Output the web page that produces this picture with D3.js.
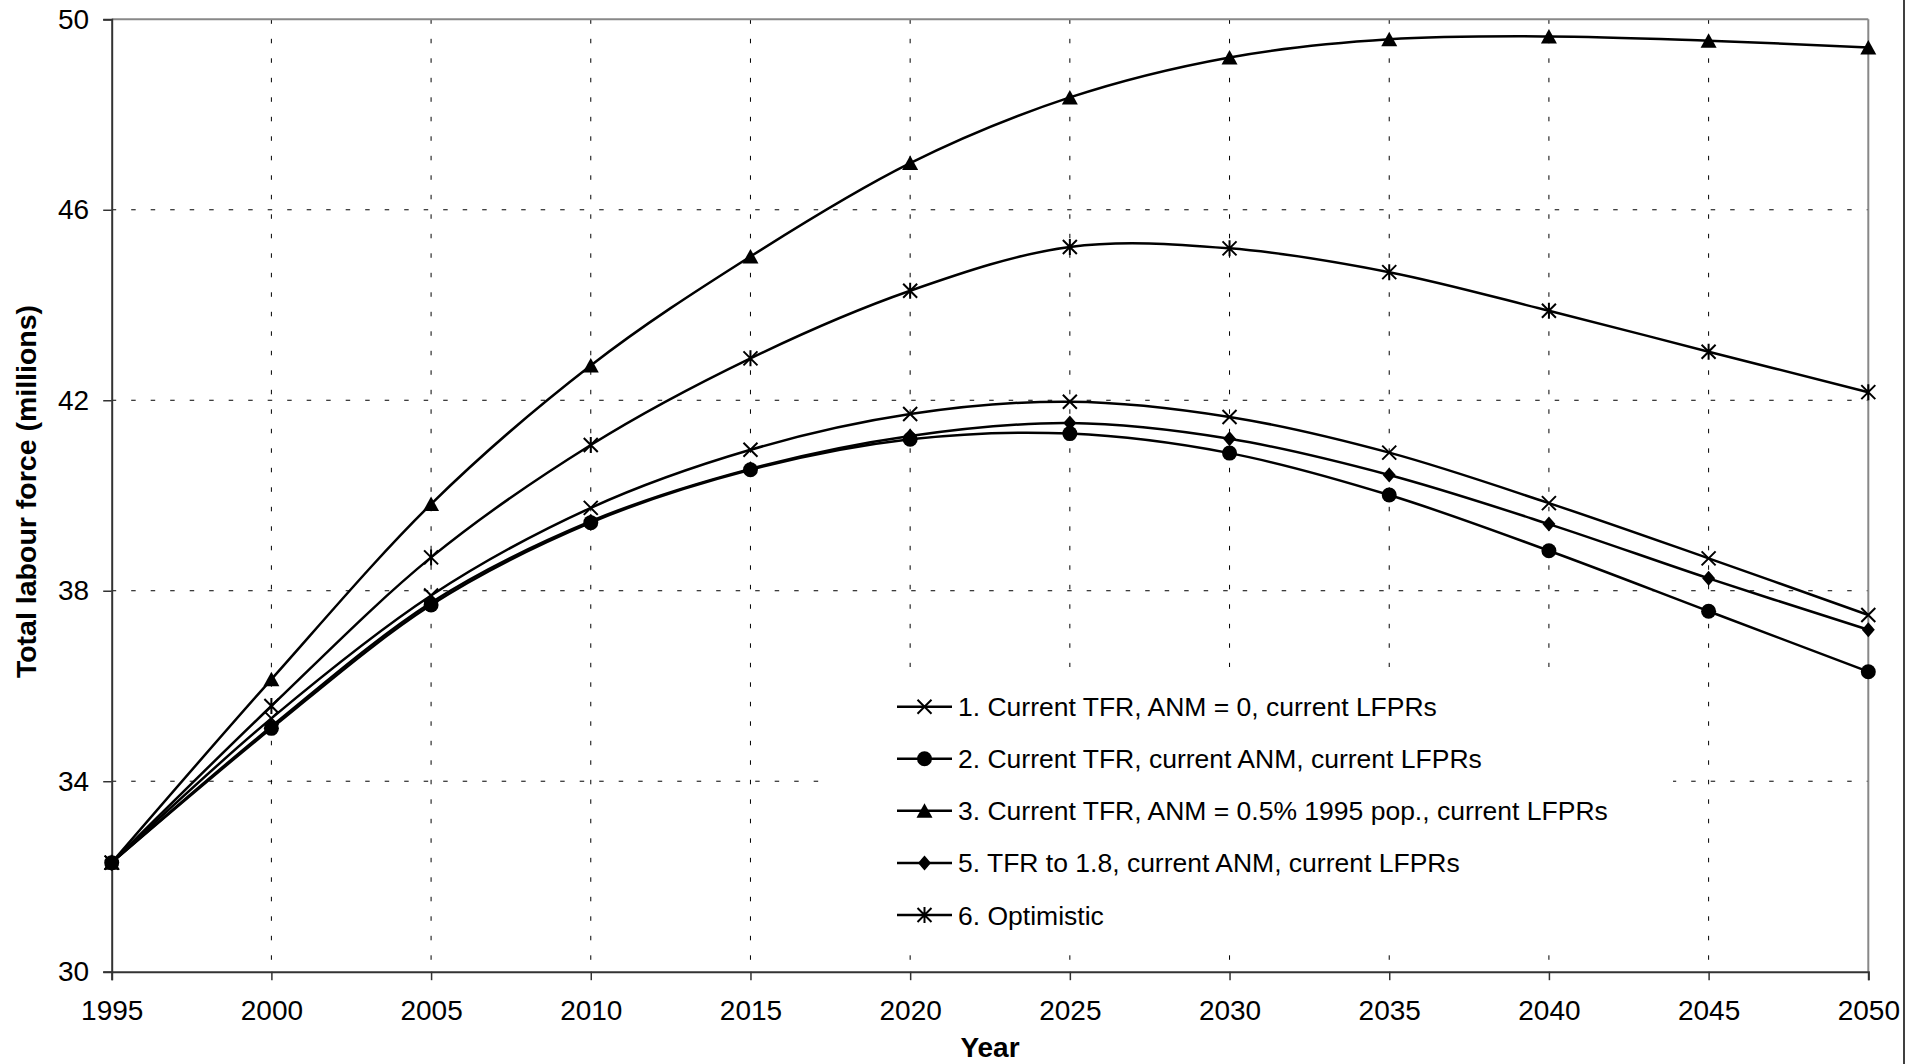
<!DOCTYPE html>
<html>
<head>
<meta charset="utf-8">
<script src="https://cdn.jsdelivr.net/npm/d3@7"></script>
<style>
  html, body { margin: 0; padding: 0; background: #fff; }
  svg { display: block; }
  text { font-family: "Liberation Sans", Arial, sans-serif; fill: #000; }
</style>
</head>
<body>
<svg id="chart" width="1925" height="1064"></svg>
<script>
// ---------- data ----------
const years = [1995, 2000, 2005, 2010, 2015, 2020, 2025, 2030, 2035, 2040, 2045, 2050];
const s1 = [32.29, 35.32, 37.90, 39.74, 40.96, 41.71, 41.97, 41.65, 40.90, 39.84, 38.68, 37.49];
const s2 = [32.29, 35.11, 37.70, 39.43, 40.54, 41.18, 41.30, 40.89, 40.01, 38.84, 37.57, 36.30];
const s3 = [32.29, 36.14, 39.82, 42.73, 45.02, 46.98, 48.36, 49.20, 49.58, 49.64, 49.55, 49.41];
const s5 = [32.29, 35.15, 37.75, 39.46, 40.56, 41.25, 41.52, 41.19, 40.43, 39.40, 38.26, 37.18];
const s6 = [32.29, 35.58, 38.70, 41.06, 42.88, 44.30, 45.22, 45.19, 44.69, 43.88, 43.02, 42.17];
const seriesNames = [
  "1. Current TFR, ANM = 0, current LFPRs",
  "2. Current TFR, current ANM, current LFPRs",
  "3. Current TFR, ANM = 0.5% 1995 pop., current LFPRs",
  "5. TFR to 1.8, current ANM, current LFPRs",
  "6. Optimistic"
];
const seriesMarkers = ["x", "circle", "triangle", "diamond", "star"];
const seriesValues = [s1, s2, s3, s5, s6];
const yTicks = [30, 34, 38, 42, 46, 50];
const xTicks = [1995, 2000, 2005, 2010, 2015, 2020, 2025, 2030, 2035, 2040, 2045, 2050];
const yTitle = "Total labour force (millions)";
const xTitle = "Year";

// ---------- layout ----------
const L = 111.7, R = 1868.3, T = 19.3, B = 971.7;
const svg = d3.select("#chart");
const x = d3.scaleLinear().domain([1995, 2050]).range([L, R]);
const y = d3.scaleLinear().domain([30, 50]).range([B, T]);

// gridlines
const grid = svg.append("g");
grid.selectAll("line.h").data(yTicks.filter(v => v > 30 && v < 50)).enter().append("line")
  .attr("x1", L).attr("x2", R).attr("y1", d => y(d)).attr("y2", d => y(d))
  .attr("stroke", "#000").attr("stroke-width", 1).attr("stroke-dasharray", "4.5,15");
grid.selectAll("line.v").data(xTicks.filter(v => v > 1995 && v < 2050)).enter().append("line")
  .attr("y1", T).attr("y2", B).attr("x1", d => x(d)).attr("x2", d => x(d))
  .attr("stroke", "#000").attr("stroke-width", 1).attr("stroke-dasharray", "4.5,15");

// plot frame: top/right gray
svg.append("line").attr("x1", L).attr("x2", R).attr("y1", T).attr("y2", T).attr("stroke", "#888").attr("stroke-width", 2);
svg.append("line").attr("x1", R).attr("x2", R).attr("y1", T).attr("y2", B).attr("stroke", "#888").attr("stroke-width", 2);

// axes
const yAxis = d3.axisLeft(y).tickValues(yTicks).tickSize(8.5).tickPadding(14).tickFormat(d3.format("d"));
const gy = svg.append("g").attr("transform", `translate(${L},0)`).call(yAxis);
const xAxis = d3.axisBottom(x).tickValues(xTicks).tickSize(8.5).tickPadding(20).tickFormat(d3.format("d"));
const gx = svg.append("g").attr("transform", `translate(0,${B})`).call(xAxis);
[gy, gx].forEach(g => {
  g.select(".domain").attr("stroke", "#333").attr("stroke-width", 2);
  g.selectAll(".tick line").attr("stroke", "#333").attr("stroke-width", 1.5);
  g.selectAll(".tick text").style("font-family", '"Liberation Sans", Arial, sans-serif')
    .style("font-size", "28px").attr("fill", "#000");
});

// axis titles
svg.append("text").attr("transform", `translate(36,${(T + B) / 2 - 4}) rotate(-90)`)
  .attr("text-anchor", "middle").style("font-size", "28.5px").style("font-weight", "bold").text(yTitle);
svg.append("text").attr("x", (L + R) / 2).attr("y", 1057)
  .attr("text-anchor", "middle").style("font-size", "28px").style("font-weight", "bold").text(xTitle);

// right edge line of the picture
svg.append("line").attr("x1", 1904).attr("x2", 1904).attr("y1", 0).attr("y2", 1064).attr("stroke", "#000").attr("stroke-width", 1.5);

// marker drawing
function drawMarker(g, type, cx, cy) {
  if (type === "x") {
    const s = 7;
    g.append("path").attr("d", `M${cx - s},${cy - s}L${cx + s},${cy + s}M${cx - s},${cy + s}L${cx + s},${cy - s}`)
      .attr("stroke", "#000").attr("stroke-width", 2).attr("fill", "none");
  } else if (type === "star") {
    const s = 7;
    g.append("path").attr("d", `M${cx - s},${cy - s}L${cx + s},${cy + s}M${cx - s},${cy + s}L${cx + s},${cy - s}M${cx},${cy - s - 1}L${cx},${cy + s + 1}`)
      .attr("stroke", "#000").attr("stroke-width", 2).attr("fill", "none");
  } else if (type === "circle") {
    g.append("circle").attr("cx", cx).attr("cy", cy).attr("r", 7.5).attr("fill", "#000");
  } else if (type === "triangle") {
    g.append("path").attr("d", `M${cx},${cy - 7.5}L${cx + 8},${cy + 7}L${cx - 8},${cy + 7}Z`).attr("fill", "#000");
  } else if (type === "diamond") {
    g.append("path").attr("d", `M${cx},${cy - 7.5}L${cx + 6.5},${cy}L${cx},${cy + 7.5}L${cx - 6.5},${cy}Z`).attr("fill", "#000");
  }
}

// series
const line = d3.line().x(d => x(d[0])).y(d => y(d[1])).curve(d3.curveCardinal.tension(0));
seriesValues.forEach((vals, i) => {
  const pts = years.map((yr, j) => [yr, vals[j]]);
  svg.append("path").datum(pts).attr("d", line).attr("fill", "none")
    .attr("stroke", "#000").attr("stroke-width", 2.5);
  const gm = svg.append("g");
  pts.forEach(p => drawMarker(gm, seriesMarkers[i], x(p[0]), y(p[1])));
});

// legend
const lg = svg.append("g");
lg.append("rect").attr("x", 833).attr("y", 667).attr("width", 840).attr("height", 288).attr("fill", "#fff");
const rowY = d3.scaleLinear().domain([0, 4]).range([706.7, 915]);
seriesNames.forEach((name, i) => {
  const cy = rowY(i);
  lg.append("line").attr("x1", 897).attr("x2", 952).attr("y1", cy).attr("y2", cy)
    .attr("stroke", "#000").attr("stroke-width", 2.5);
  drawMarker(lg, seriesMarkers[i], 924.5, cy);
  lg.append("text").attr("x", 958).attr("y", cy).attr("dy", "0.36em")
    .style("font-size", "26.5px").text(name);
});
</script>
</body>
</html>
